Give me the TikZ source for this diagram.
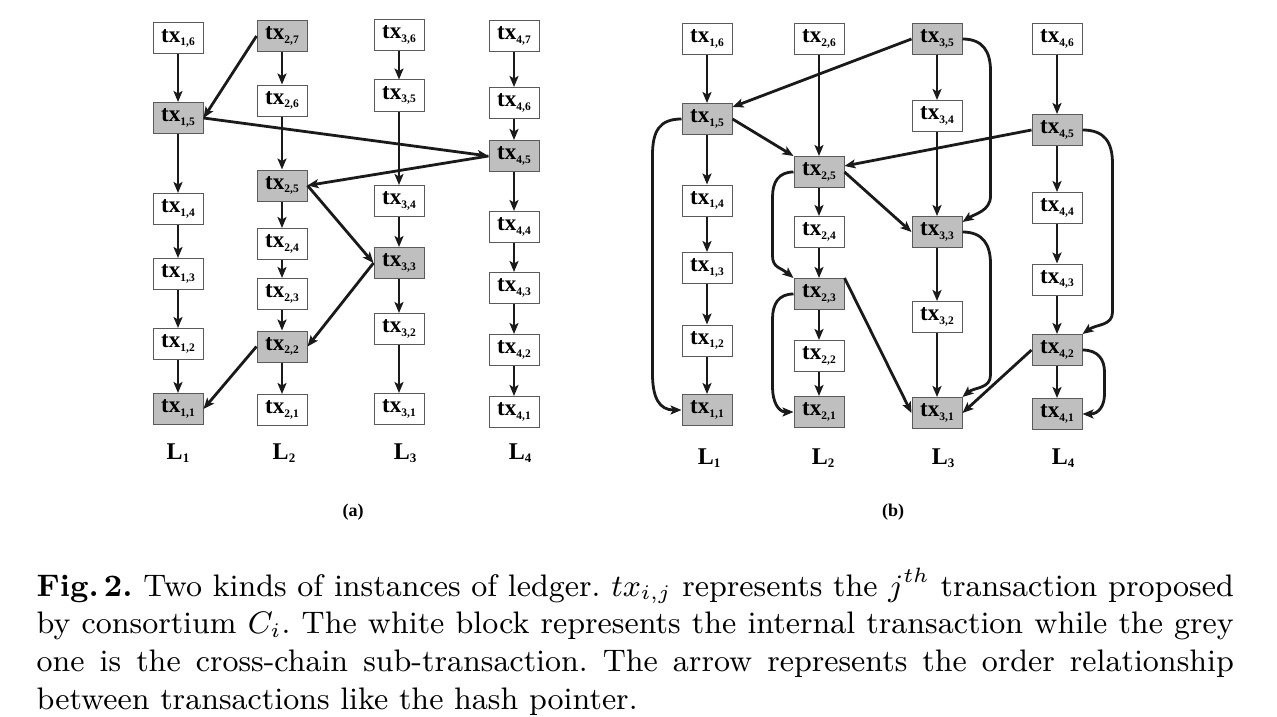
\documentclass[tikz,border=0pt]{standalone}
\usepackage{fontspec}
\usetikzlibrary{arrows.meta,calc}
\newfontfamily\boxfont{Liberation Serif}
\definecolor{boxgrey}{HTML}{BFBFBF}
\definecolor{boxline}{HTML}{5A5A5A}
\definecolor{arrcol}{HTML}{1A1A1A}
\newcommand\txlab[2]{{\boxfont\bfseries\fontsize{23}{23}\selectfont tx\raisebox{-3.5pt}{\fontsize{11.5}{11.5}\selectfont #1,#2}}}
\newcommand\Llab[1]{{\boxfont\bfseries\fontsize{24}{24}\selectfont L\raisebox{-3pt}{\fontsize{13}{13}\selectfont #1}}}
\tikzset{
  wbox/.style={draw=boxline, line width=1pt, fill=white, minimum width=50pt, minimum height=31pt, inner sep=0pt},
  gbox/.style={wbox, fill=boxgrey},
  arr/.style={-{Stealth[length=11pt,width=9pt,inset=2.5pt]}, line width=2.8pt, draw=arrcol},
  lab/.style={inner sep=0pt},
  sublab/.style={inner sep=0pt, font=\boxfont\bfseries\fontsize{18}{18}\selectfont}
}
\begin{document}
\begin{tikzpicture}[x=1pt,y=-1pt]
\useasboundingbox (0,0) rectangle (1277,717);
% ---------- panel (a)
\node[wbox] (a16) at (178,38.5) {\txlab{1}{6}};
\node[gbox] (a15) at (178,118) {\txlab{1}{5}};
\node[wbox] (a14) at (178,209) {\txlab{1}{4}};
\node[wbox] (a13) at (178,274) {\txlab{1}{3}};
\node[wbox] (a12) at (178,344) {\txlab{1}{2}};
\node[gbox] (a11) at (178,409) {\txlab{1}{1}};
\node[gbox] (a27) at (282,36) {\txlab{2}{7}};
\node[wbox] (a26) at (282,100.5) {\txlab{2}{6}};
\node[gbox] (a25) at (282,185.5) {\txlab{2}{5}};
\node[wbox] (a24) at (282,244) {\txlab{2}{4}};
\node[wbox] (a23) at (282,294) {\txlab{2}{3}};
\node[gbox] (a22) at (282,346.5) {\txlab{2}{2}};
\node[wbox] (a21) at (282,410) {\txlab{2}{1}};
\node[wbox] (a36) at (399,34.7) {\txlab{3}{6}};
\node[wbox] (a35) at (399,95.5) {\txlab{3}{5}};
\node[wbox] (a34) at (399,201) {\txlab{3}{4}};
\node[gbox] (a33) at (399,263) {\txlab{3}{3}};
\node[wbox] (a32) at (399,329) {\txlab{3}{2}};
\node[wbox] (a31) at (399,409) {\txlab{3}{1}};
\node[wbox] (a47) at (514,36) {\txlab{4}{7}};
\node[wbox] (a46) at (514,103) {\txlab{4}{6}};
\node[gbox] (a45) at (514,156) {\txlab{4}{5}};
\node[wbox] (a44) at (514,227) {\txlab{4}{4}};
\node[wbox] (a43) at (514,288) {\txlab{4}{3}};
\node[wbox] (a42) at (514,350) {\txlab{4}{2}};
\node[wbox] (a41) at (514,412) {\txlab{4}{1}};
\node[lab] (aL1) at (178,453) {\Llab{1}};
\node[lab] (aL2) at (284,453) {\Llab{2}};
\node[lab] (aL3) at (405,453) {\Llab{3}};
\node[lab] (aL4) at (520,453) {\Llab{4}};
\node[sublab] (acap) at (353,512) {(a)};
\foreach \s/\t in {a16/a15,a15/a14,a14/a13,a13/a12,a12/a11,
  a27/a26,a26/a25,a25/a24,a24/a23,a23/a22,a22/a21,
  a36/a35,a35/a34,a34/a33,a33/a32,a32/a31,
  a47/a46,a46/a45,a45/a44,a44/a43,a43/a42,a42/a41}
  \draw[arr] (\s.south) -- (\t.north);
\draw[arr] (a27.west) -- (a15.east);
\draw[arr] (a15.east) -- (a45.west);
\draw[arr] (a45.west) -- (a25.east);
\draw[arr] (a25.east) -- (a33.west);
\draw[arr] (a33.west) -- (a22.east);
\draw[arr] (a22.west) -- (a11.east);
% ---------- panel (b)
\node[wbox] (b16) at (707,39) {\txlab{1}{6}};
\node[gbox] (b15) at (707,119) {\txlab{1}{5}};
\node[wbox] (b14) at (707,200.5) {\txlab{1}{4}};
\node[wbox] (b13) at (707,268) {\txlab{1}{3}};
\node[wbox] (b12) at (707,340.5) {\txlab{1}{2}};
\node[gbox] (b11) at (707,410) {\txlab{1}{1}};
\node[wbox] (b26) at (819,39) {\txlab{2}{6}};
\node[gbox] (b25) at (819,172) {\txlab{2}{5}};
\node[wbox] (b24) at (819,232) {\txlab{2}{4}};
\node[gbox] (b23) at (819,294) {\txlab{2}{3}};
\node[wbox] (b22) at (819,356) {\txlab{2}{2}};
\node[gbox] (b21) at (819,412) {\txlab{2}{1}};
\node[gbox] (b35) at (937,39) {\txlab{3}{5}};
\node[wbox] (b34) at (937,116) {\txlab{3}{4}};
\node[gbox] (b33) at (937,232) {\txlab{3}{3}};
\node[wbox] (b32) at (937,317) {\txlab{3}{2}};
\node[gbox] (b31) at (937,413) {\txlab{3}{1}};
\node[wbox] (b46) at (1057,39) {\txlab{4}{6}};
\node[gbox] (b45) at (1057,130) {\txlab{4}{5}};
\node[wbox] (b44) at (1057,208) {\txlab{4}{4}};
\node[wbox] (b43) at (1057,279.5) {\txlab{4}{3}};
\node[gbox] (b42) at (1057,350) {\txlab{4}{2}};
\node[gbox] (b41) at (1057,414) {\txlab{4}{1}};
\node[lab] (bL1) at (709,458) {\Llab{1}};
\node[lab] (bL2) at (823,458) {\Llab{2}};
\node[lab] (bL3) at (943,458) {\Llab{3}};
\node[lab] (bL4) at (1063,458) {\Llab{4}};
\node[sublab] (bcap) at (893,512) {(b)};
\foreach \s/\t in {b16/b15,b15/b14,b14/b13,b13/b12,b12/b11,
  b26/b25,b25/b24,b24/b23,b23/b22,b22/b21,
  b35/b34,b34/b33,b33/b32,b32/b31,
  b46/b45,b45/b44,b44/b43,b43/b42,b42/b41}
  \draw[arr] (\s.south) -- (\t.north);
\draw[arr] (b35.west) -- ([yshift=-4pt]b15.north east);
\draw[arr] (b15.east) -- (b25.north west);
\draw[arr] (b45.west) -- ([yshift=6pt]b25.east);
\draw[arr] (b25.east) -- (b33.west);
\draw[arr] (b23.north east) -- (b31.west);
\draw[arr] (b42.west) -- (b31.east);
% curved arrows
\draw[arr] (b15.west) .. controls +(-22,0) and +(0,-24) .. ($(b15.west)+(-29,36)$)
  -- ($(b11.west)+(-29,-36)$) .. controls +(0,24) and +(-22,0) .. (b11.west);
\draw[arr] (b25.west) .. controls +(-15,0) and +(0,-15) .. ($(b25.west)+(-21,25)$)
  -- ($(b23.north west)+(-21,-22)$) .. controls +(0,12) and +(-12,-10) .. (b23.north west);
\draw[arr] (b23.west) .. controls +(-15,0) and +(0,-15) .. ($(b23.west)+(-21,25)$)
  -- ($(b21.west)+(-21,-25)$) .. controls +(0,15) and +(-15,0) .. (b21.west);
\draw[arr] (b35.east) .. controls +(20,0) and +(0,-20) .. ($(b35.east)+(28,32)$)
  -- ($(b33.north east)+(28,-20)$) .. controls +(0,15) and +(12,-8) .. ([yshift=-6pt]b33.north east);
\draw[arr] (b33.east) .. controls +(20,0) and +(0,-20) .. ($(b33.east)+(28,32)$)
  -- ($(b31.north east)+(28,-22)$) .. controls +(0,14) and +(12,-10) .. (b31.north east);
\draw[arr] (b45.east) .. controls +(22,0) and +(0,-22) .. ($(b45.east)+(30,34)$)
  -- ($(b42.north east)+(30,-22)$) .. controls +(0,14) and +(14,-10) .. (b42.north east);
\draw[arr] (b42.east) .. controls +(16,0) and +(0,-12) .. ($(b42.east)+(22,22)$)
  -- ($(b41.east)+(22,-20)$) .. controls +(0,12) and +(16,0) .. (b41.east);
% ---------- caption
\node[scale=3.46, anchor=base west, inner sep=0pt] (caption) at (36,596) {\parbox[t]{346pt}{\frenchspacing\fontsize{9}{10.9}\selectfont\textbf{Fig.\,2.} Two kinds of instances of ledger. $tx_{i,j}$ represents the $j^{th}$ transaction proposed\linebreak by consortium $C_i$. The white block represents the internal transaction while the grey\linebreak one is the cross-chain sub-transaction. The arrow represents the order relationship\linebreak between transactions like the hash pointer.}};
\end{tikzpicture}
\end{document}
